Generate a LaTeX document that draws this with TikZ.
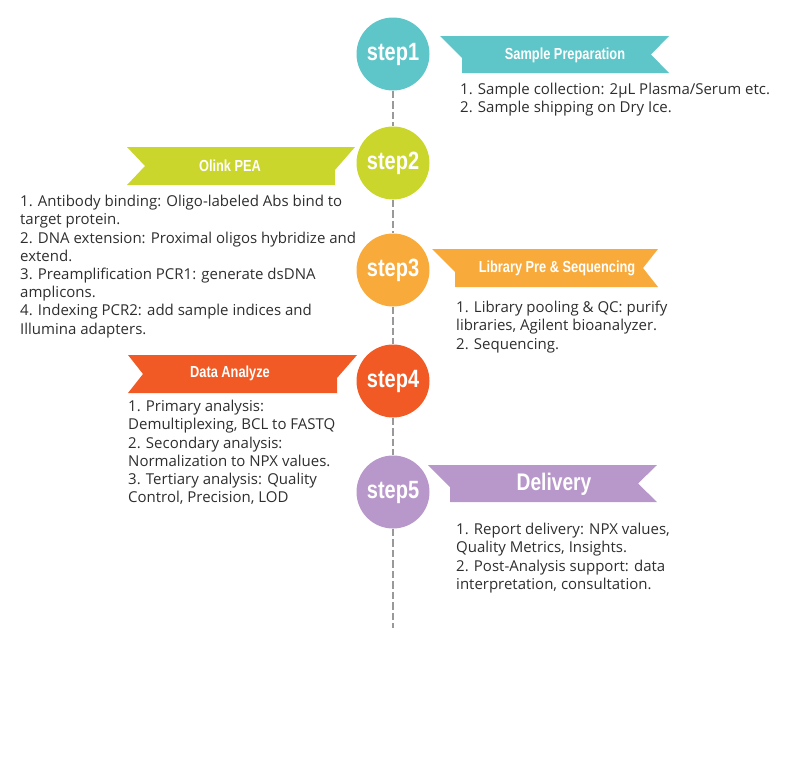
\documentclass[tikz,border=0pt]{standalone}
\usepackage{fontspec}
\setmainfont{Open Sans}
\newfontfamily\stepfont{Liberation Sans}[FakeStretch=0.8]
\usetikzlibrary{positioning}

\definecolor{tealc}{HTML}{5EC5C8}
\definecolor{limec}{HTML}{CAD62B}
\definecolor{orangec}{HTML}{F8AA3B}
\definecolor{redc}{HTML}{F15A24}
\definecolor{purplec}{HTML}{B897CA}

\begin{document}
\begin{tikzpicture}[x=1pt, y=-1pt,
    stepc/.style={circle, minimum size=73pt, inner sep=0pt, text=white, font=\stepfont\bfseries\fontsize{25}{25}\selectfont},
    title/.style={inner sep=0pt, text=white, font=\stepfont\bfseries\fontsize{16}{16}\selectfont},
    body/.style={inner sep=0pt, anchor=north west, align=left, text=black!82, font=\fontsize{15}{18.2}\selectfont},
    tline/.style={draw=black!40, line width=1.3pt, dash pattern=on 7.5pt off 3pt},
]
\useasboundingbox (0,0) rectangle (800,758);

% Steps on the time line
\node[stepc, fill=tealc] (s1) at (393,54) {step1};
\node[stepc, fill=limec] (s2) at (393,163) {step2};
\node[stepc, fill=orangec] (s3) at (393,270) {step3};
\node[stepc, fill=redc] (s4) at (393,381) {step4};
\node[stepc, fill=purplec] (s5) at (393,492) {step5};
\coordinate (tend) at (393,628);

% Time line
\draw[tline] (s1) -- (s2);
\draw[tline] (s2) -- (s3);
\draw[tline] (s3) -- (s4);
\draw[tline] (s4) -- (s5);
\draw[tline] (s5) -- (tend);

% Ribbons
\fill[tealc] (440,36) -- (669,36) -- (651,54.5) -- (669,73) -- (462,73) -- (462,58) -- cycle;
\fill[limec] (127,147) -- (355,147) -- (335,170) -- (335,185) -- (127,185) -- (145,166) -- cycle;
\fill[orangec] (432,249) -- (658,249) -- (643,268) -- (658,287) -- (455,287) -- (455,272) -- cycle;
\fill[redc] (128,355) -- (357,355) -- (337,378) -- (337,393) -- (128,393) -- (143,374) -- cycle;
\fill[purplec] (428,465) -- (657,465) -- (638,483.5) -- (657,502) -- (450,502) -- (450,487) -- cycle;

% Ribbon titles
\node[title] (t1) at (565,55) {Sample Preparation};
\node[title] (t2) at (230,166) {Olink PEA};
\node[title] (t3) at (557,268) {Library Pre \& Sequencing};
\node[title] (t4) at (230,373) {Data Analyze};
\node[title, font=\stepfont\bfseries\fontsize{24}{24}\selectfont] (t5) at (554,484) {Delivery};

% Step details
\node[body] (b1) at (460,83) {1. Sample collection: 2µL Plasma/Serum etc.\\2. Sample shipping on Dry Ice.};
\node[body] (b2) at (20,195) {1. Antibody binding: Oligo-labeled Abs bind to\\target protein.\\2. DNA extension: Proximal oligos hybridize and\\extend.\\3. Preamplification PCR1: generate dsDNA\\amplicons.\\4. Indexing PCR2: add sample indices and\\Illumina adapters.};
\node[body] (b3) at (456,301) {1. Library pooling \& QC: purify\\libraries, Agilent bioanalyzer.\\2. Sequencing.};
\node[body] (b4) at (128,400) {1. Primary analysis:\\Demultiplexing, BCL to FASTQ\\2. Secondary analysis:\\Normalization to NPX values.\\3. Tertiary analysis: Quality\\Control, Precision, LOD};
\node[body] (b5) at (456,523) {1. Report delivery: NPX values,\\Quality Metrics, Insights.\\2. Post-Analysis support: data\\interpretation, consultation.};

\end{tikzpicture}
\end{document}
